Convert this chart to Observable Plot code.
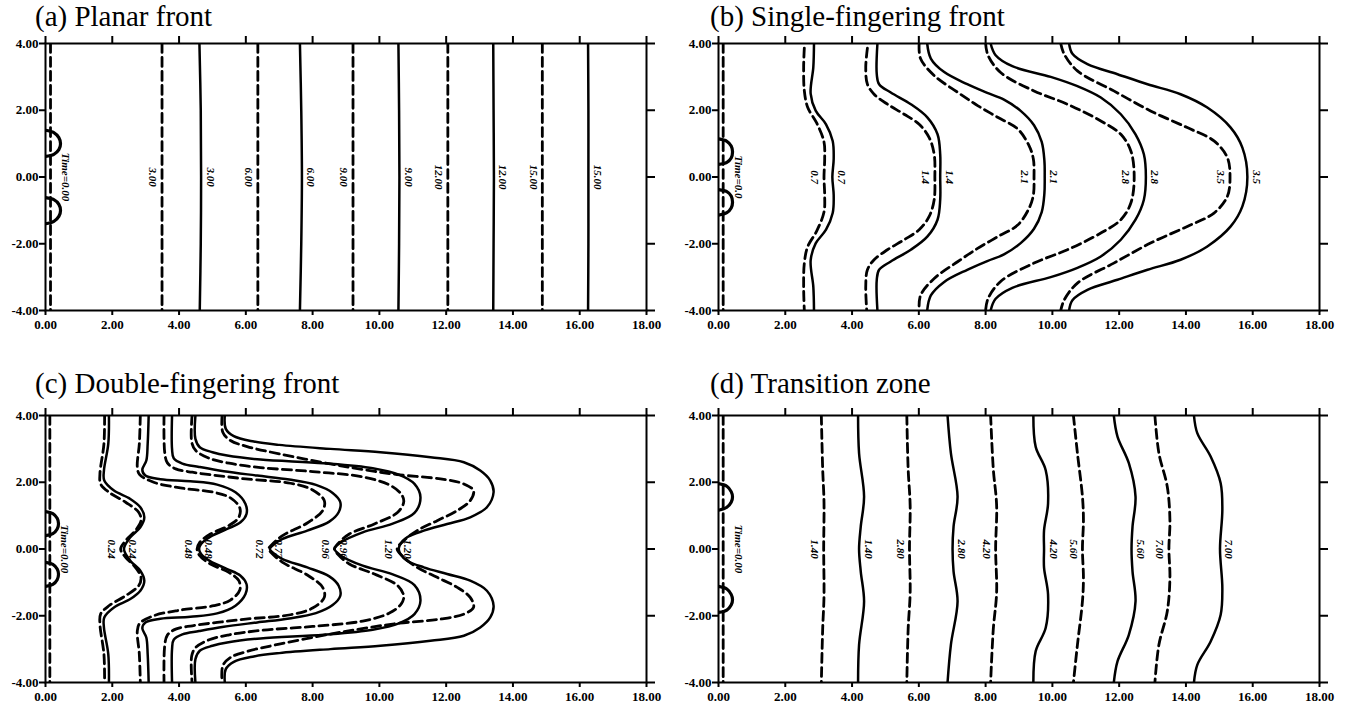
<!DOCTYPE html>
<html><head><meta charset="utf-8">
<script src="https://cdn.jsdelivr.net/npm/d3@7"></script>
<script src="https://cdn.jsdelivr.net/npm/@observablehq/plot@0.6"></script>
<style>
body{margin:0;background:#fff;}
#wrap{position:relative;width:1351px;height:710px;overflow:hidden;background:#fff;}
.panel{position:absolute;}
.title{position:absolute;font-family:"Liberation Serif","Times New Roman",serif;font-size:29px;line-height:34px;white-space:nowrap;color:#000;}
</style></head><body><div id="wrap"></div><script>
// ---------- axes ----------
const xTicks = [0,2,4,6,8,10,12,14,16,18];
const yTicks = [-4,-2,0,2,4];
const titles = ["(a) Planar front","(b) Single-fingering front","(c) Double-fingering front","(d) Transition zone"];

// ---------- (a) Planar front ----------
const aLabels = ["Time=0.00","3.00","6.00","9.00","12.00","15.00"];
const aDash0 = [[0.15,4],[0.15,0],[0.15,-4]];
const aDash3 = [[3.49,4],[3.49,0],[3.49,-4]];
const aDash6 = [[6.36,4],[6.36,0],[6.36,-4]];
const aDash9 = [[9.21,4],[9.21,0],[9.21,-4]];
const aDash12 = [[12.05,4],[12.05,0],[12.05,-4]];
const aDash15 = [[14.88,4],[14.88,0],[14.88,-4]];
const aSolid3 = [[4.61,4],[4.65,2],[4.66,0],[4.65,-2],[4.62,-4]];
const aSolid6 = [[7.62,4],[7.66,2],[7.68,0],[7.66,-2],[7.62,-4]];
const aSolid9 = [[10.57,4],[10.59,2],[10.60,0],[10.59,-2],[10.57,-4]];
const aSolid12 = [[13.41,4],[13.42,2],[13.43,0],[13.42,-2],[13.41,-4]];
const aSolid15 = [[16.25,4],[16.26,2],[16.26,0],[16.26,-2],[16.25,-4]];
const aWellTop = [[0,1.40],[0.25,1.33],[0.40,1.18],[0.45,1.0],[0.40,0.82],[0.25,0.68],[0,0.62]];
const aWellBot = [[0,-0.62],[0.25,-0.68],[0.40,-0.82],[0.45,-1.0],[0.40,-1.18],[0.25,-1.33],[0,-1.40]];

// ---------- (b) Single-fingering front ----------
const bLabels = ["Time=0.0","0.7","1.4","2.1","2.8","3.5"];
const bDash0 = [[0.14,4],[0.14,0],[0.14,-4]];
const b07s = [[2.86,4.0],[2.84,3.29],[2.76,2.50],[2.91,1.99],[3.22,1.58],[3.42,1.08],[3.45,0.55],[3.41,0],[3.45,-0.55],[3.42,-1.08],[3.22,-1.58],[2.91,-1.99],[2.76,-2.50],[2.84,-3.29],[2.86,-4.0]];
const b07d = [[2.57,3.86],[2.55,3.29],[2.57,2.59],[2.67,2.09],[2.94,1.62],[3.16,1.05],[3.18,0.55],[3.16,0],[3.18,-0.55],[3.16,-1.05],[2.94,-1.62],[2.67,-2.09],[2.57,-2.59],[2.55,-3.29],[2.57,-4.0]];
const b14s = [[4.76,4.0],[4.74,3.08],[4.81,2.78],[5.16,2.53],[5.76,2.18],[6.26,1.78],[6.56,1.28],[6.64,0.68],[6.64,0],[6.64,-0.68],[6.56,-1.28],[6.26,-1.78],[5.76,-2.18],[5.16,-2.53],[4.81,-2.78],[4.74,-3.08],[4.76,-4.0]];
const b14d = [[4.46,3.86],[4.41,3.28],[4.46,2.78],[4.66,2.48],[5.06,2.18],[5.56,1.88],[6.01,1.58],[6.31,1.18],[6.46,0.68],[6.48,0],[6.46,-0.68],[6.31,-1.18],[6.01,-1.58],[5.56,-1.88],[5.06,-2.18],[4.66,-2.48],[4.46,-2.78],[4.41,-3.28],[4.44,-4.0]];
const b21s = [[6.25,4.0],[6.36,3.55],[6.75,3.15],[7.45,2.78],[8.05,2.52],[8.55,2.32],[9.05,1.98],[9.45,1.55],[9.68,1.05],[9.76,0.5],[9.77,0],[9.76,-0.5],[9.68,-1.05],[9.45,-1.55],[9.05,-1.98],[8.55,-2.32],[8.05,-2.52],[7.45,-2.78],[6.75,-3.15],[6.36,-3.55],[6.25,-4.0]];
const b21d = [[6.01,4.0],[6.05,3.55],[6.46,3.04],[7.16,2.54],[7.76,2.14],[8.36,1.79],[8.96,1.44],[9.30,0.94],[9.43,0.54],[9.45,0],[9.43,-0.54],[9.30,-0.94],[8.96,-1.44],[8.36,-1.79],[7.76,-2.14],[7.16,-2.54],[6.46,-3.04],[6.05,-3.55],[6.01,-4.0]];
const b28s = [[8.15,4.0],[8.30,3.65],[8.80,3.32],[9.95,3.0],[10.75,2.72],[11.45,2.38],[12.05,1.88],[12.49,1.28],[12.74,0.68],[12.80,0],[12.74,-0.68],[12.49,-1.28],[12.05,-1.88],[11.45,-2.38],[10.75,-2.72],[9.95,-3.0],[8.80,-3.32],[8.30,-3.65],[8.15,-4.0]];
const b28d = [[8.0,4.0],[8.07,3.65],[8.45,3.13],[9.45,2.58],[10.45,2.18],[11.45,1.68],[12.05,1.28],[12.35,0.78],[12.45,0],[12.35,-0.78],[12.05,-1.28],[11.45,-1.68],[10.45,-2.18],[9.45,-2.58],[8.45,-3.13],[8.07,-3.65],[8.0,-4.0]];
const b35s = [[10.50,4.0],[10.60,3.69],[11.05,3.38],[11.95,3.08],[12.85,2.78],[13.84,2.48],[14.64,2.08],[15.34,1.48],[15.69,0.88],[15.84,0],[15.69,-0.88],[15.34,-1.48],[14.64,-2.08],[13.84,-2.48],[12.85,-2.78],[11.95,-3.08],[11.05,-3.38],[10.60,-3.69],[10.50,-4.0]];
const b35d = [[10.25,4.0],[10.35,3.69],[10.75,3.18],[11.84,2.58],[12.94,1.98],[14.04,1.48],[14.84,1.08],[15.24,0.58],[15.32,0],[15.24,-0.58],[14.84,-1.08],[14.04,-1.48],[12.94,-1.98],[11.84,-2.58],[10.75,-3.18],[10.35,-3.69],[10.25,-4.0]];
const bWellTop = [[0,1.14],[0.25,1.07],[0.38,0.93],[0.42,0.76],[0.38,0.57],[0.25,0.44],[0,0.38]];
const bWellBot = [[0,-0.38],[0.25,-0.44],[0.38,-0.57],[0.42,-0.76],[0.38,-0.93],[0.25,-1.07],[0,-1.14]];

// ---------- (c) Double-fingering front ----------
const cLabels = ["Time=0.00","0.24","0.48","0.72","0.96","1.20"];
const cDash0 = [[0.13,4],[0.13,0],[0.13,-4]];
const c24s = [[1.90,4.0],[1.88,3.15],[1.75,2.35],[1.76,2.05],[2.05,1.75],[2.54,1.50],[2.84,1.25],[2.96,0.95],[2.84,0.65],[2.54,0.35],[2.35,0],[2.54,-0.35],[2.84,-0.65],[2.96,-0.95],[2.84,-1.25],[2.54,-1.50],[2.05,-1.75],[1.76,-2.05],[1.75,-2.35],[1.88,-3.15],[1.90,-4.0]];
const c24d = [[1.77,4.0],[1.75,3.15],[1.63,2.25],[1.65,1.95],[1.90,1.70],[2.40,1.40],[2.79,1.10],[2.86,0.85],[2.69,0.55],[2.40,0.25],[2.25,0],[2.40,-0.25],[2.69,-0.55],[2.86,-0.85],[2.79,-1.10],[2.40,-1.40],[1.90,-1.70],[1.65,-1.95],[1.63,-2.25],[1.75,-3.15],[1.77,-4.0]];
const c48s = [[3.09,4.0],[3.06,3.15],[3.02,2.65],[2.90,2.37],[2.99,2.20],[3.44,2.09],[4.34,2.03],[5.14,1.93],[5.69,1.70],[5.99,1.35],[6.02,1.05],[5.84,0.80],[5.44,0.60],[4.94,0.37],[4.66,0.15],[4.60,0],[4.66,-0.15],[4.94,-0.37],[5.44,-0.60],[5.84,-0.80],[6.02,-1.05],[5.99,-1.35],[5.69,-1.70],[5.14,-1.93],[4.34,-2.03],[3.44,-2.09],[2.99,-2.20],[2.90,-2.37],[3.02,-2.65],[3.06,-3.15],[3.09,-4.0]];
const c48d = [[2.84,4.0],[2.81,3.15],[2.75,2.45],[2.82,2.23],[3.24,2.0],[4.04,1.83],[5.04,1.70],[5.54,1.53],[5.82,1.23],[5.79,0.95],[5.49,0.70],[4.94,0.45],[4.62,0.20],[4.54,0],[4.62,-0.20],[4.94,-0.45],[5.49,-0.70],[5.79,-0.95],[5.82,-1.23],[5.54,-1.53],[5.04,-1.70],[4.04,-1.83],[3.24,-2.0],[2.82,-2.23],[2.75,-2.45],[2.81,-3.15],[2.84,-4.0]];
const c72s = [[3.79,4.0],[3.79,3.0],[3.84,2.72],[4.10,2.56],[4.60,2.46],[5.34,2.33],[6.34,2.20],[7.30,2.08],[8.10,1.92],[8.60,1.68],[8.83,1.40],[8.78,1.10],[8.50,0.82],[7.84,0.55],[7.10,0.30],[6.80,0.10],[6.72,0],[6.80,-0.10],[7.10,-0.30],[7.84,-0.55],[8.50,-0.82],[8.78,-1.10],[8.83,-1.40],[8.60,-1.68],[8.10,-1.92],[7.30,-2.08],[6.34,-2.20],[5.34,-2.33],[4.60,-2.46],[4.10,-2.56],[3.84,-2.72],[3.79,-3.0],[3.79,-4.0]];
const c72d = [[3.55,4.0],[3.57,2.90],[3.65,2.58],[3.90,2.40],[4.40,2.30],[5.14,2.20],[6.00,2.10],[7.34,1.97],[8.00,1.77],[8.35,1.45],[8.30,1.15],[7.84,0.78],[7.10,0.40],[6.75,0.10],[6.68,0],[6.75,-0.10],[7.10,-0.40],[7.84,-0.78],[8.30,-1.15],[8.35,-1.45],[8.00,-1.77],[7.34,-1.97],[6.00,-2.10],[5.14,-2.20],[4.40,-2.30],[3.90,-2.40],[3.65,-2.58],[3.57,-2.90],[3.55,-4.0]];
const c96s = [[4.49,4.0],[4.49,3.30],[4.62,3.05],[5.00,2.90],[5.44,2.80],[6.44,2.68],[8.33,2.57],[9.80,2.42],[10.60,2.22],[11.05,1.95],[11.23,1.55],[11.05,1.08],[10.40,0.76],[9.50,0.50],[8.85,0.20],[8.66,0],[8.85,-0.20],[9.50,-0.50],[10.40,-0.76],[11.05,-1.08],[11.23,-1.55],[11.05,-1.95],[10.60,-2.22],[9.80,-2.42],[8.33,-2.57],[6.44,-2.68],[5.44,-2.80],[5.00,-2.90],[4.62,-3.05],[4.49,-3.30],[4.49,-4.0]];
const c96d = [[4.39,4.0],[4.38,3.20],[4.50,2.95],[4.90,2.72],[5.50,2.57],[6.44,2.44],[8.00,2.32],[9.50,2.16],[10.30,1.92],[10.65,1.65],[10.73,1.42],[10.55,1.10],[9.85,0.75],[9.10,0.45],[8.75,0.15],[8.65,0],[8.75,-0.15],[9.10,-0.45],[9.85,-0.75],[10.55,-1.10],[10.73,-1.42],[10.65,-1.65],[10.30,-1.92],[9.50,-2.16],[8.00,-2.32],[6.44,-2.44],[5.50,-2.57],[4.90,-2.72],[4.50,-2.95],[4.38,-3.20],[4.39,-4.0]];
const c120s = [[5.37,4.0],[5.40,3.60],[5.64,3.38],[6.24,3.22],[7.00,3.12],[8.53,3.00],[10.03,2.90],[11.53,2.75],[12.53,2.60],[13.02,2.35],[13.32,2.05],[13.42,1.70],[13.22,1.25],[12.72,0.95],[12.03,0.75],[11.33,0.55],[10.83,0.35],[10.63,0.15],[10.58,0],[10.63,-0.15],[10.83,-0.35],[11.33,-0.55],[12.03,-0.75],[12.72,-0.95],[13.22,-1.25],[13.42,-1.70],[13.32,-2.05],[13.02,-2.35],[12.53,-2.60],[11.53,-2.75],[10.03,-2.90],[8.53,-3.00],[7.00,-3.12],[6.24,-3.22],[5.64,-3.38],[5.40,-3.60],[5.37,-4.0]];
const c120d = [[5.29,4.0],[5.31,3.50],[5.54,3.25],[6.04,3.07],[7.00,2.85],[8.53,2.55],[9.53,2.38],[10.53,2.23],[11.83,2.10],[12.53,1.95],[12.82,1.75],[12.72,1.45],[12.33,1.15],[11.73,0.85],[11.13,0.55],[10.73,0.25],[10.53,0],[10.73,-0.25],[11.13,-0.55],[11.73,-0.85],[12.33,-1.15],[12.72,-1.45],[12.82,-1.75],[12.53,-1.95],[11.83,-2.10],[10.53,-2.23],[9.53,-2.38],[8.53,-2.55],[7.00,-2.85],[6.04,-3.07],[5.54,-3.25],[5.31,-3.50],[5.29,-4.0]];
const cWellTop = [[0,1.12],[0.22,1.06],[0.35,0.92],[0.39,0.76],[0.35,0.60],[0.22,0.46],[0,0.40]];
const cWellBot = [[0,-0.40],[0.22,-0.46],[0.35,-0.60],[0.39,-0.76],[0.35,-0.92],[0.22,-1.06],[0,-1.12]];

// ---------- (d) Transition zone ----------
const dLabels = ["Time=0.00","1.40","2.80","4.20","5.60","7.00"];
const dDash0 = [[0.14,4],[0.14,0],[0.14,-4]];
const d14d = [[3.08,4.0],[3.12,2.4],[3.16,1.4],[3.15,0],[3.16,-1.4],[3.12,-2.4],[3.08,-4.0]];
const d14s = [[4.18,4.0],[4.21,2.87],[4.36,1.57],[4.26,0.67],[4.21,0],[4.26,-0.67],[4.36,-1.57],[4.21,-2.87],[4.18,-4.0]];
const d28d = [[5.64,4.0],[5.68,2.4],[5.74,1.3],[5.72,0],[5.74,-1.3],[5.68,-2.4],[5.64,-4.0]];
const d28s = [[6.86,4.0],[6.96,2.87],[7.16,1.57],[7.04,0.67],[7.01,0],[7.04,-0.67],[7.16,-1.57],[6.96,-2.87],[6.86,-4.0]];
const d42d = [[8.15,4.0],[8.23,2.4],[8.33,1.3],[8.30,0],[8.33,-1.3],[8.23,-2.4],[8.15,-4.0]];
const d42s = [[9.43,4.0],[9.50,3.06],[9.80,2.36],[9.87,1.36],[9.75,0.56],[9.75,0],[9.75,-0.56],[9.87,-1.36],[9.80,-2.36],[9.50,-3.06],[9.43,-4.0]];
const d56d = [[10.63,4.0],[10.75,2.87],[10.90,1.57],[10.93,0.87],[10.90,0],[10.93,-0.87],[10.90,-1.57],[10.75,-2.87],[10.63,-4.0]];
const d56s = [[11.84,4.0],[11.95,3.37],[12.29,2.57],[12.49,1.57],[12.40,0.67],[12.37,0],[12.40,-0.67],[12.49,-1.57],[12.29,-2.57],[11.95,-3.37],[11.84,-4.0]];
const d70d = [[13.07,4.0],[13.19,2.87],[13.44,1.87],[13.52,0.87],[13.49,0],[13.52,-0.87],[13.44,-1.87],[13.19,-2.87],[13.07,-4.0]];
const d70s = [[14.24,4.0],[14.34,3.47],[14.74,2.77],[15.04,1.97],[15.09,1.17],[15.02,0],[15.09,-1.17],[15.04,-1.97],[14.74,-2.77],[14.34,-3.47],[14.24,-4.0]];
const dWellTop = [[0,1.96],[0.25,1.88],[0.38,1.72],[0.42,1.56],[0.38,1.40],[0.25,1.25],[0,1.16]];
const dWellBot = [[0,-1.12],[0.25,-1.20],[0.38,-1.36],[0.42,-1.52],[0.38,-1.68],[0.25,-1.83],[0,-1.90]];

// ---------- panel assembly ----------
function curvesOf(labels, dash0, pairs) {
  const list = [{label: labels[0], style: "dash", time0: true, pts: dash0}];
  pairs.forEach(([d, s], i) => {
    list.push({label: labels[i + 1], style: "dash", pts: d});
    list.push({label: labels[i + 1], style: "solid", pts: s});
  });
  return list;
}
const panels = [
  {title: titles[0], left: 0, top: 0, curves: curvesOf(aLabels, aDash0, [[aDash3,aSolid3],[aDash6,aSolid6],[aDash9,aSolid9],[aDash12,aSolid12],[aDash15,aSolid15]]), wells: [aWellTop, aWellBot]},
  {title: titles[1], left: 673, top: 0, curves: curvesOf(bLabels, bDash0, [[b07d,b07s],[b14d,b14s],[b21d,b21s],[b28d,b28s],[b35d,b35s]]), wells: [bWellTop, bWellBot]},
  {title: titles[2], left: 0, top: 372, curves: curvesOf(cLabels, cDash0, [[c24d,c24s],[c48d,c48s],[c72d,c72s],[c96d,c96s],[c120d,c120s]]), wells: [cWellTop, cWellBot]},
  {title: titles[3], left: 673, top: 372, curves: curvesOf(dLabels, dDash0, [[d14d,d14s],[d28d,d28s],[d42d,d42s],[d56d,d56s],[d70d,d70s]]), wells: [dWellTop, dWellBot]}
];

const wrap = document.getElementById("wrap");
const serif = "Liberation Serif, Times New Roman, serif";
const titleTops = [-1, -1, 366, 366];
const titleLefts = [35, 710, 35, 710];

// label anchor: the curve point on the centre line y = 0
function centrePoint(pts) {
  const q = pts.find(p => p[1] === 0);
  return q || pts.reduce((a, b) => Math.abs(b[1]) < Math.abs(a[1]) ? b : a);
}

panels.forEach((p, pi) => {
  const rows = [];
  p.curves.forEach((c, k) => c.pts.forEach(([x, y]) => rows.push({k, style: c.style, x, y})));
  const wellRows = [];
  p.wells.forEach((w, k) => w.forEach(([x, y]) => wellRows.push({k, x, y})));
  const labs = p.curves.map(c => {
    const q = centrePoint(c.pts);
    return {text: c.label, x: q[0], y: q[1], style: c.style, time0: !!c.time0};
  });
  const labelStyle = {x: "x", y: "y", text: "text", rotate: 90, fontSize: 11, fontStyle: "italic", fontWeight: "bold", fontFamily: serif, fill: "black", textAnchor: "middle"};
  const chart = Plot.plot({
    width: 675, height: 345,
    marginLeft: 45, marginRight: 29, marginTop: 43, marginBottom: 35,
    x: {domain: [0, 18]},
    y: {domain: [-4, 4]},
    style: {fontFamily: serif, fontSize: "13px", fontWeight: "bold", background: "white", overflow: "visible"},
    marks: [
      Plot.line(rows.filter(d => d.style === "solid"), {x: "x", y: "y", z: "k", curve: "catmull-rom", stroke: "black", strokeWidth: 2.5, clip: true}),
      Plot.line(rows.filter(d => d.style === "dash"), {x: "x", y: "y", z: "k", curve: "catmull-rom", stroke: "black", strokeWidth: 2.8, strokeDasharray: "9,5", clip: true}),
      Plot.line(wellRows, {x: "x", y: "y", z: "k", curve: "catmull-rom", stroke: "black", strokeWidth: 3.2, clip: true}),
      Plot.frame({stroke: "black", strokeWidth: 2}),
      Plot.axisX({anchor: "bottom", ticks: xTicks, tickSize: 5, tickPadding: 4, tickFormat: d => d.toFixed(2), strokeWidth: 2, fontSize: 13, fontWeight: "bold", fontFamily: serif, label: null}),
      Plot.axisX({anchor: "top", ticks: xTicks, tickSize: 8, tickFormat: () => "", strokeWidth: 2, label: null}),
      Plot.axisY({anchor: "left", ticks: yTicks, tickSize: 6, tickPadding: 1, tickFormat: d => d.toFixed(2), strokeWidth: 2, fontSize: 13, fontWeight: "bold", fontFamily: serif, label: null}),
      Plot.axisY({anchor: "right", ticks: yTicks, tickSize: 8, tickFormat: () => "", strokeWidth: 2, label: null}),
      Plot.text(labs.filter(d => d.time0), {...labelStyle, dx: 15}),
      Plot.text(labs.filter(d => !d.time0 && d.style === "dash"), {...labelStyle, dx: -9}),
      Plot.text(labs.filter(d => d.style === "solid"), {...labelStyle, dx: 9})
    ]
  });
  chart.classList.add("panel");
  chart.style.left = p.left + "px";
  chart.style.top = p.top + "px";
  wrap.appendChild(chart);
  const t = document.createElement("div");
  t.className = "title";
  t.style.left = titleLefts[pi] + "px";
  t.style.top = titleTops[pi] + "px";
  t.textContent = p.title;
  wrap.appendChild(t);
});
</script></body></html>
